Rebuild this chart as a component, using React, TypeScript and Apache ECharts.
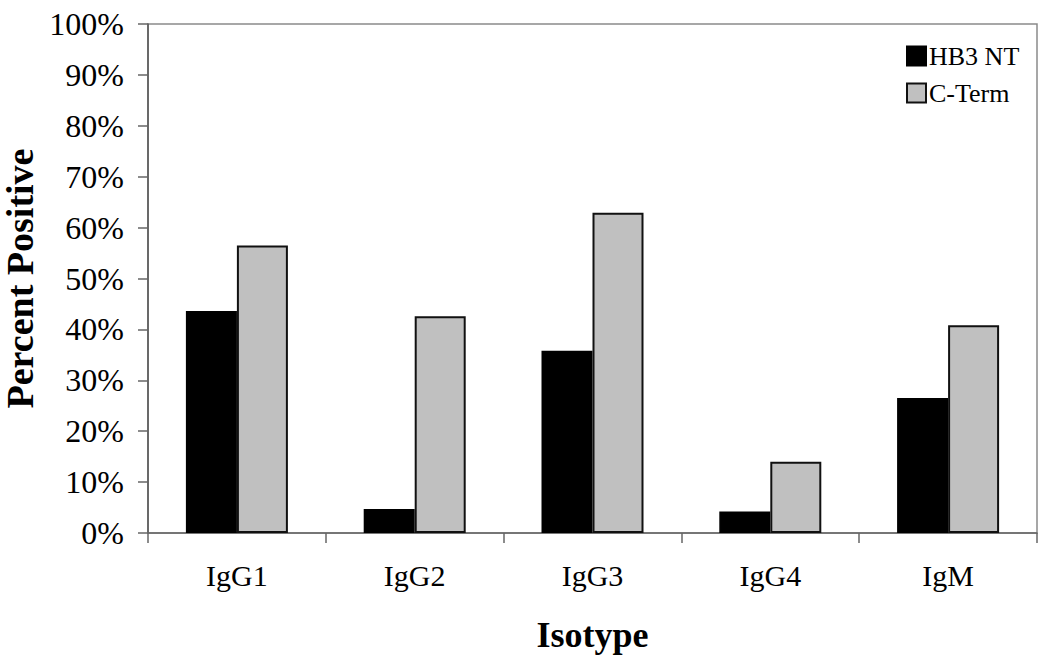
import React, { useEffect, useRef } from "react";
import * as echarts from "echarts";

const categories = ["IgG1", "IgG2", "IgG3", "IgG4", "IgM"];
const hb3nt = [43.6, 4.7, 35.8, 4.2, 26.5];
const cterm = [56.5, 42.6, 62.9, 14.0, 40.8];
const seriesNames = ["HB3 NT", "C-Term"];

const FONT = "'Liberation Serif', 'Times New Roman', serif";

export default function App() {
  const ref = useRef<HTMLDivElement>(null);
  useEffect(() => {
    if (!ref.current) return;
    const chart = echarts.init(ref.current, undefined, { renderer: "svg" });
    chart.setOption({
      animation: false,
      backgroundColor: "#ffffff",
      textStyle: { fontFamily: FONT },
      grid: {
        left: 148,
        right: 13,
        top: 24,
        bottom: 133,
        show: true,
        borderColor: "#8a8a8a",
        borderWidth: 1.5,
        containLabel: false,
        outerBoundsMode: "none",
      },
      legend: {
        left: 901,
        top: 38,
        orient: "vertical",
        itemWidth: 19,
        itemHeight: 19,
        itemGap: 11,
        icon: "rect",
        data: seriesNames,
        textStyle: { fontFamily: FONT, fontSize: 26, color: "#000", padding: [0, 0, 0, -2] },
      },
      xAxis: {
        type: "category",
        data: categories,
        boundaryGap: true,
        axisLine: { lineStyle: { color: "#666", width: 1.5 } },
        axisTick: { show: true, length: 10, alignWithLabel: false, lineStyle: { color: "#666", width: 1.5 } },
        axisLabel: { fontFamily: FONT, fontSize: 30, color: "#000", margin: 27 },
        name: "Isotype",
        nameLocation: "middle",
        nameGap: 84,
        nameMoveOverlap: false,
        nameTextStyle: { fontFamily: FONT, fontSize: 36, fontWeight: "bold", color: "#000" },
      },
      yAxis: {
        type: "value",
        min: 0,
        max: 100,
        interval: 10,
        splitLine: { show: false },
        axisLine: { show: true, lineStyle: { color: "#555", width: 1.5 } },
        axisTick: { show: true, length: 10, lineStyle: { color: "#666", width: 1.5 } },
        axisLabel: { fontFamily: FONT, fontSize: 32, color: "#000", margin: 24, formatter: "{value}%" },
        name: "Percent Positive",
        nameLocation: "middle",
        nameGap: 108,
        nameMoveOverlap: false,
        nameTextStyle: { fontFamily: FONT, fontSize: 38, lineHeight: 40, fontWeight: "bold", color: "#000" },
      },
      series: [
        {
          name: seriesNames[0],
          type: "bar",
          data: hb3nt,
          barWidth: 51,
          barGap: "0%",
          itemStyle: { color: "#000000", borderColor: "#000", borderWidth: 1.5 },
        },
        {
          name: seriesNames[1],
          type: "bar",
          data: cterm,
          barWidth: 51,
          barGap: "0%",
          itemStyle: { color: "#c0c0c0", borderColor: "#111", borderWidth: 2 },
        },
      ],
    });
    return () => chart.dispose();
  }, []);
  return (
    <div
      ref={ref}
      style={{ position: "fixed", left: 0, top: 0, width: 1050, height: 666, background: "#fff" }}
    />
  );
}
